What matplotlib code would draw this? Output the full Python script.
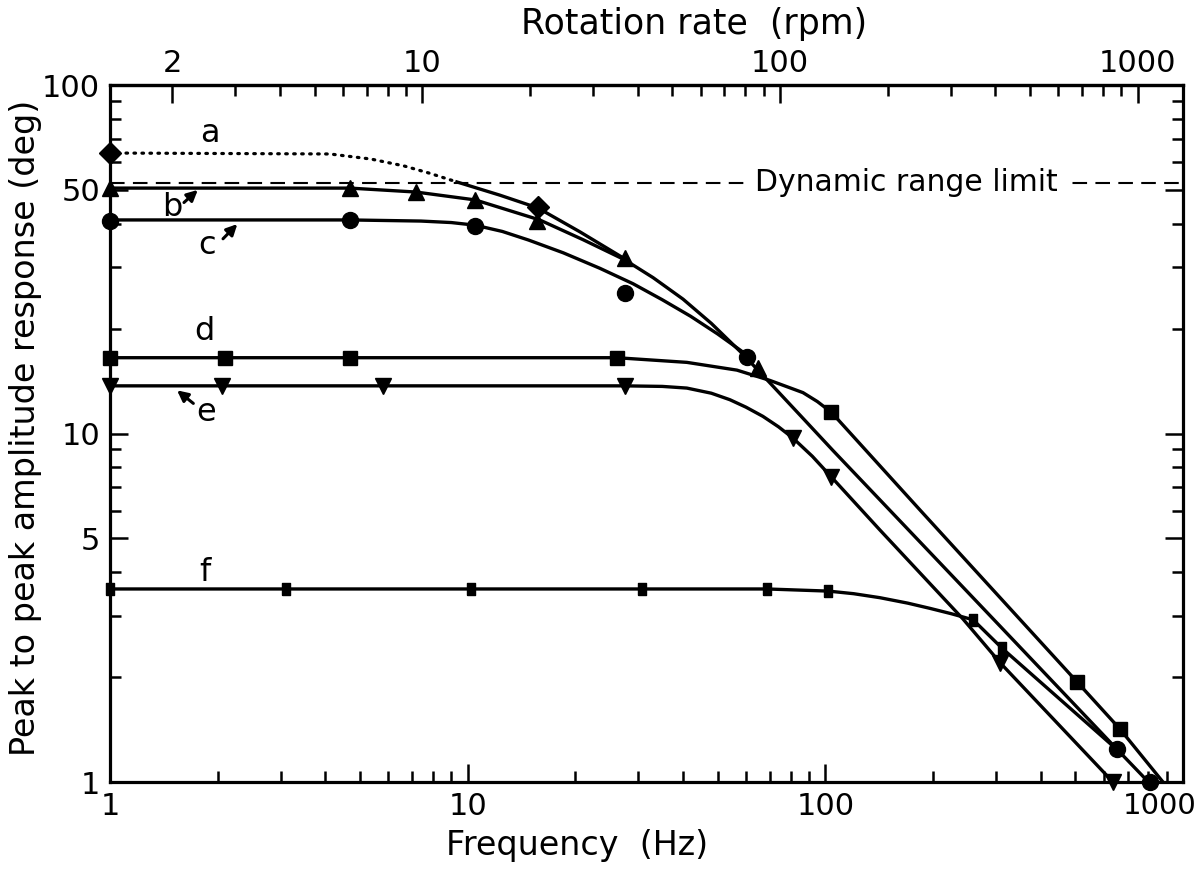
import matplotlib
matplotlib.use("Agg")
import matplotlib.pyplot as plt
from matplotlib.ticker import FixedLocator, FixedFormatter, NullFormatter

plt.rcParams['font.family'] = ['DejaVu Sans']

# ---------------- data ----------------
# markers
a_x = [1, 15.7]
a_y = [63.8, 44.7]
b_x = [1, 4.69, 7.17, 10.5, 15.6, 27.5, 64.8]
b_y = [50.6, 50.6, 49.3, 46.8, 40.7, 31.9, 15.4]
c_x = [1, 4.69, 10.5, 27.5, 60.4, 653, 808]
c_y = [40.7, 41.0, 39.4, 25.3, 16.6, 1.24, 1.0]
d_x = [1, 2.1, 4.69, 26.1, 104, 505, 666]
d_y = [16.5, 16.5, 16.5, 16.5, 11.5, 1.94, 1.42]
e_x = [1, 2.06, 5.8, 27.5, 81.2, 104, 308, 637]
e_y = [13.7, 13.7, 13.7, 13.7, 9.7, 7.5, 2.2, 1.0]
f_x = [1, 3.1, 10.2, 30.7, 68.7, 102, 259, 312, 653]
f_y = [3.58, 3.58, 3.58, 3.58, 3.58, 3.53, 2.92, 2.42, 1.24]

# drawn curves
a_dot_x = [1, 4.12, 5.37, 6.63, 7.79, 9.33]
a_dot_y = [63.8, 63.4, 61.3, 58.6, 55.9, 52.7]
a_sol_x = [9.33, 12.3, 15.7, 20.6, 27.5]
a_sol_y = [52.7, 48.3, 44.4, 37.9, 31.7]
b_cur_x = [1, 4.69, 7.17, 10.5, 15.9, 21, 27.5, 33, 40, 48, 58.8, 71.4, 87, 105, 172, 308, 653, 808]
b_cur_y = [50.6, 50.6, 49.3, 46.8, 41.0, 36.0, 31.5, 28.0, 24.3, 20.7, 16.9, 13.67, 11.0, 8.94, 5.25, 2.80, 1.243, 0.99]
c_cur_x = [1, 4.69, 7.4, 9.0, 10.5, 12.5, 14.8, 18.5, 23.4, 29, 35, 42, 50, 60.4]
c_cur_y = [41.0, 41.0, 40.7, 40.3, 39.6, 38.0, 35.9, 33.0, 29.8, 26.9, 24.2, 21.7, 19.3, 16.8]
d_cur_x = [1, 26.1, 41.0, 56.6, 70, 86.6, 95, 104, 184, 505, 666, 879]
d_cur_y = [16.5, 16.5, 16.0, 15.2, 14.2, 13.1, 12.35, 11.5, 6.03, 1.94, 1.42, 1.0]
e_cur_x = [1, 27.5, 35, 41, 48, 54.1, 60, 66.9, 74, 81.2, 92, 104, 142, 243, 308, 637]
e_cur_y = [13.7, 13.7, 13.65, 13.5, 13.05, 12.5, 11.9, 11.2, 10.45, 9.7, 8.6, 7.5, 5.29, 2.93, 2.2, 1.0]
f_cur_x = [1, 68.7, 102, 120, 142, 170, 196, 225, 259, 312, 653]
f_cur_y = [3.58, 3.58, 3.53, 3.47, 3.38, 3.26, 3.15, 3.04, 2.92, 2.42, 1.24]

dyn_limit = 52.4
rpm_per_hz = 1.34

x_ticks = [1, 10, 100, 1000]
x_ticklabels = ['1', '10', '100', '1000']
y_ticks = [1, 5, 10, 50, 100]
y_ticklabels = ['1', '5', '10', '50', '100']
top_ticks = [2, 10, 100, 1000]
top_ticklabels = ['2', '10', '100', '1000']

# ---------------- figure ----------------
W, H = 1198, 872
fig = plt.figure(figsize=(W / 100, H / 100), dpi=100)
ax = fig.add_axes([110 / W, 90 / H, 1073 / W, 697 / H])
ax.set_xscale('log')
ax.set_yscale('log')
ax.set_xlim(1, 1000)
ax.set_ylim(1, 100)

lw = 2.4
k = 'black'
ax.plot(a_dot_x, a_dot_y, color=k, lw=2.3, linestyle=(0, (0.5, 2.0)), dash_capstyle='round')
ax.plot(a_sol_x, a_sol_y, color=k, lw=lw)
ax.plot(b_cur_x, b_cur_y, color=k, lw=lw, clip_on=False)
ax.plot(c_cur_x, c_cur_y, color=k, lw=lw)
ax.plot(d_cur_x, d_cur_y, color=k, lw=lw)
ax.plot(e_cur_x, e_cur_y, color=k, lw=lw)
ax.plot(f_cur_x, f_cur_y, color=k, lw=lw)

ax.axhline(dyn_limit, color=k, lw=1.5, linestyle=(0, (7, 4)))
ax.text(168, dyn_limit, 'Dynamic range limit', ha='center', va='center', fontsize=21.5,
        bbox=dict(facecolor='white', edgecolor='none', pad=7))

mk = dict(color=k, linestyle='none', clip_on=False, zorder=5)
rect = [(-0.33, -0.5), (0.33, -0.5), (0.33, 0.5), (-0.33, 0.5), (-0.33, -0.5)]
ax.plot(a_x, a_y, marker='D', ms=11, **mk)
ax.plot(b_x, b_y, marker='^', ms=12, **mk)
ax.plot(c_x, c_y, marker='o', ms=11.5, **mk)
ax.plot(d_x, d_y, marker='s', ms=10, **mk)
ax.plot(e_x, e_y, marker='v', ms=12, **mk)
ax.plot(f_x, f_y, marker=rect, ms=9, **mk)

# labels for curves
fs_lab = 23
ax.text(1.90, 72.5, 'a', fontsize=fs_lab, ha='center', va='center')
ax.text(1.49, 44.5, 'b', fontsize=fs_lab, ha='center', va='center')
ax.text(1.87, 34.6, 'c', fontsize=fs_lab, ha='center', va='center')
ax.text(1.84, 19.6, 'd', fontsize=fs_lab, ha='center', va='center')
ax.text(1.86, 11.5, 'e', fontsize=fs_lab, ha='center', va='center')
ax.text(1.84, 4.0, 'f', fontsize=fs_lab, ha='center', va='center')
arw = dict(arrowstyle='-|>', color=k, lw=2.2, mutation_scale=16, shrinkA=0, shrinkB=0)
ax.annotate('', xy=(1.76, 50.0), xytext=(1.61, 46.0), arrowprops=arw)
ax.annotate('', xy=(2.27, 39.9), xytext=(2.07, 36.2), arrowprops=arw)
ax.annotate('', xy=(1.54, 13.3), xytext=(1.71, 12.2), arrowprops=arw)

# axes styling
for s in ax.spines.values():
    s.set_linewidth(2.3)
ax.xaxis.set_major_locator(FixedLocator(x_ticks))
ax.xaxis.set_major_formatter(FixedFormatter(x_ticklabels[:-1] + ['']))
ax.xaxis.set_minor_formatter(NullFormatter())
ax.yaxis.set_major_locator(FixedLocator(y_ticks))
ax.yaxis.set_major_formatter(FixedFormatter(y_ticklabels))
ax.yaxis.set_minor_formatter(NullFormatter())
ax.tick_params(which='both', direction='in', width=1.8, labelsize=22, top=False, right=True)
ax.tick_params(which='major', length=13)
ax.tick_params(axis='y', which='major', pad=7)
ax.tick_params(axis='x', which='major', pad=7)
ax.tick_params(which='minor', length=8)
# last bottom tick label, shifted left as in the original so it stays inside the picture
ax.annotate(x_ticklabels[-1], xy=(x_ticks[-1], 0), xycoords=('data', 'axes fraction'),
            xytext=(-17, -7), textcoords='offset points', ha='center', va='top', fontsize=21,
            annotation_clip=False)

top = ax.secondary_xaxis('top', functions=(lambda f: f * rpm_per_hz, lambda r: r / rpm_per_hz))
top.xaxis.set_major_locator(FixedLocator(top_ticks))
top.xaxis.set_major_formatter(FixedFormatter(top_ticklabels))
top_minor = [v * m for v in (1, 10, 100) for m in range(2, 10)]
top.xaxis.set_minor_locator(FixedLocator(top_minor))
top.xaxis.set_minor_formatter(NullFormatter())
top.tick_params(which='both', direction='in', width=1.8, labelsize=22)
top.tick_params(which='major', length=13, pad=5)
top.tick_params(which='minor', length=8)
top.spines['top'].set_linewidth(2.3)

fig.text(694 / W, 1 - 24 / H, 'Rotation rate  (rpm)', fontsize=25, ha='center', va='center')
fig.text(577 / W, 1 - 845 / H, 'Frequency  (Hz)', fontsize=24, ha='center', va='center')
fig.text(26 / W, 1 - 428 / H, 'Peak to peak amplitude response (deg)', fontsize=24,
         rotation=90, ha='center', va='center')

fig.savefig('out.png', dpi=100, facecolor='white')
